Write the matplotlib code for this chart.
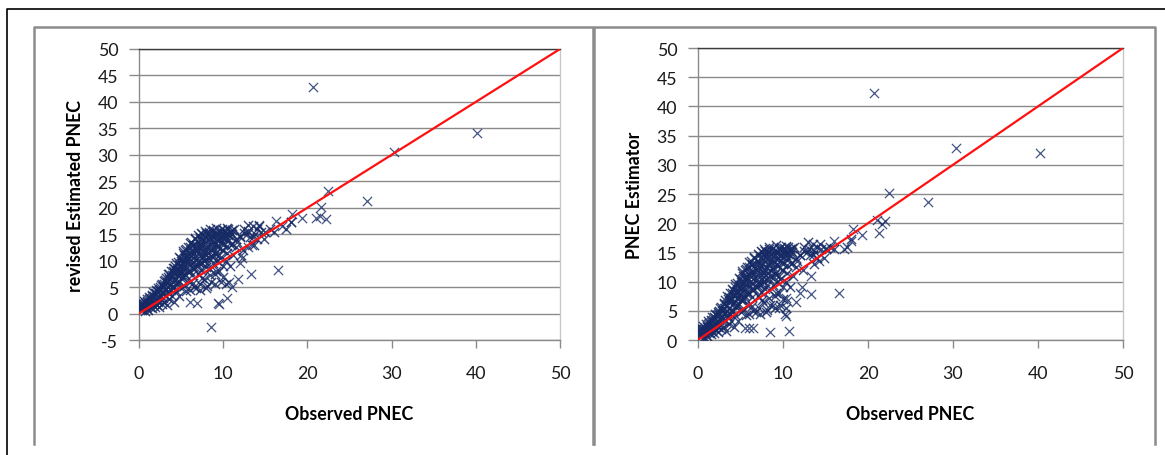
import numpy as np
import matplotlib
matplotlib.use('Agg')
import matplotlib.pyplot as plt
from matplotlib.lines import Line2D

plt.rcParams['font.family'] = ['Lato', 'DejaVu Sans']
plt.rcParams['axes.unicode_minus'] = False

# ── data ────────────────────────────────────────────────────────────────────
# dense cloud that both panels share (observed PNEC, estimated PNEC)
cloud_obs = [
    0.2, 0.3, 0.4, 0.5, 0.5, 0.6, 0.7, 0.8, 0.8, 0.9, 1.0, 1.0, 1.1, 1.2, 1.2,
    1.3, 1.4, 1.5, 1.5, 1.6, 1.7, 1.8, 1.8, 1.9, 2.0, 2.0, 2.1, 2.2, 2.2, 2.3,
    2.4, 2.5, 2.5, 2.6, 2.7, 2.8, 2.8, 2.9, 3.0, 3.0, 3.1, 3.2, 3.3, 3.3, 3.4,
    3.5, 3.6, 3.6, 3.7, 3.8, 3.9, 3.9, 4.0, 4.1, 4.2, 4.2, 4.3, 4.4, 4.5, 4.5,
    4.6, 4.7, 4.8, 4.8, 4.9, 5.0, 5.0, 5.1, 5.2, 5.3, 5.3, 5.4, 5.5, 5.5, 5.6,
    5.7, 5.8, 5.9, 6.0, 6.0, 6.1, 6.2, 6.3, 6.4, 6.5, 6.5, 6.6, 6.7, 6.8, 7.0,
    7.0, 7.1, 7.2, 7.3, 7.3, 7.4, 7.5, 7.6, 7.7, 7.8, 7.8, 7.9, 8.0, 8.0, 8.1,
    8.2, 8.3, 8.4, 8.5, 8.5, 8.7, 8.8, 8.9, 9.0, 9.0, 9.1, 9.2, 9.3, 9.5, 9.6,
    9.7, 9.8, 9.9, 10.0, 10.0, 10.2, 10.3, 10.4, 10.5, 10.6, 10.8, 10.9, 11.0,
    11.3, 11.5, 12.0, 12.5, 12.8, 13.5, 13.8, 14.0, 14.3, 14.5, 15.0, 15.5,
    16.0, 17.5, 18.0,
    4.0, 4.3, 4.6, 4.9, 5.2, 5.6, 5.8, 6.2, 6.6, 6.8, 7.2, 7.5, 7.9, 8.3, 8.6,
    9.2, 9.6, 10.1, 10.3, 10.6, 10.9, 5.0, 5.4, 5.7, 6.1, 6.3, 6.7, 7.0, 7.3,
    7.6, 7.9, 8.2, 8.5, 8.8, 9.1, 9.4, 9.7, 10.0, 3.5, 3.8, 4.1, 4.4, 4.7, 5.1,
    5.5, 6.4, 6.9, 7.4, 7.7, 8.1, 8.4, 8.9, 9.3, 2.5, 2.7, 3.0, 3.2, 3.4, 1.5,
    1.7, 2.0, 2.3, 0.3, 0.6, 0.9, 1.2, 0.1, 0.2, 0.4, 6.0, 6.4, 6.8, 7.2, 7.5,
    8.0, 8.4, 9.0, 9.5, 10.0, 10.3, 10.8, 11.2, 11.6, 12.3, 13.2, 12.9, 13.6,
    14.8,
    0.5, 0.7, 1.0, 1.3, 1.6, 1.9, 2.1, 2.4, 2.6, 2.9, 3.1, 3.3, 3.6, 3.8, 4.0,
    4.2, 4.4, 4.6, 4.8, 5.0, 5.2, 5.4, 5.6, 5.8, 6.0, 6.2, 6.4, 6.6, 6.8, 7.0,
    7.2, 7.4, 7.6, 7.8, 8.0, 8.2, 8.4, 8.6, 8.8, 9.0, 9.2, 9.4, 9.6, 9.8, 10.0,
    10.2, 10.4, 10.6, 10.8, 11.0,
    4.5, 5.0, 5.5, 6.0, 6.5, 7.0, 7.5, 8.0, 8.5, 9.0, 9.5, 10.0, 10.5, 11.0,
    11.5, 12.0, 12.5, 13.0, 13.5, 14.0,
    2.2, 2.8, 3.4, 4.0, 4.6, 5.2, 5.8, 6.4, 7.0, 7.6, 8.2, 8.8, 9.4, 10.0,
]
cloud_est = [
    0.8, 1.2, 0.6, 1.5, 0.9, 1.8, 0.5, 1.3, 2.0, 0.9, 1.6, 2.4, 0.7, 1.9, 2.8,
    1.2, 2.3, 3.0, 1.0, 2.6, 1.6, 3.4, 2.1, 1.2, 3.8, 2.7, 1.7, 4.2, 3.1, 2.2,
    1.3, 4.6, 3.5, 2.6, 1.8, 5.0, 4.0, 3.0, 5.5, 2.2, 4.4, 3.4, 6.0, 1.6, 5.0,
    3.9, 6.6, 2.8, 5.4, 4.5, 7.2, 3.3, 6.0, 5.0, 7.8, 2.2, 6.6, 4.2, 8.3, 5.6,
    7.2, 3.3, 9.0, 6.2, 7.8, 10.0, 4.8, 8.5, 6.8, 11.0, 5.2, 9.3, 7.5, 12.0, 4.3,
    10.2, 8.2, 11.3, 6.0, 12.5, 9.2, 10.8, 7.3, 13.0, 11.5, 5.0, 8.8, 12.3, 10.2,
    13.5, 7.5, 11.2, 9.6, 14.0, 4.5, 12.2, 10.5, 13.0, 6.5, 14.5, 11.5, 8.8, 13.8,
    12.5, 5.2, 15.0, 10.5, 14.2, 12.0, 6.0, 13.2, 9.5, 15.2, 11.5, 5.5, 14.0, 8.0,
    12.8, 15.5, 10.5, 6.0, 14.5, 12.0, 15.0, 9.0, 15.5, 5.5, 15.2, 11.5, 14.8,
    15.5, 13.0, 15.0, 16.0, 12.5, 14.5, 16.0, 15.0, 16.5, 15.0, 14.0, 16.5, 15.5,
    15.5, 16.0, 15.5, 16.0, 17.3,
    8.0, 9.0, 9.8, 10.5, 11.5, 11.0, 12.5, 13.5, 14.0, 13.0, 14.5, 15.0, 15.2,
    15.5, 14.8, 15.3, 15.8, 15.8, 14.5, 15.9, 15.3, 7.5, 8.5, 9.5, 10.0, 11.8,
    10.8, 12.0, 12.8, 11.5, 12.0, 12.8, 13.5, 12.5, 13.3, 14.0, 13.5, 14.2, 7.0,
    8.0, 8.6, 7.5, 8.2, 9.5, 10.5, 9.8, 9.0, 8.2, 10.0, 9.5, 8.5, 10.8, 10.0, 5.0,
    5.6, 6.2, 6.8, 7.5, 3.5, 4.0, 4.5, 4.8, 1.8, 2.4, 2.8, 3.2, 1.0, 1.5, 2.0,
    4.5, 5.8, 4.8, 5.5, 6.8, 4.8, 7.2, 7.5, 8.0, 7.0, 10.0, 9.0, 11.0, 13.5, 12.0,
    14.5, 16.8, 13.0, 14.0,
    1.4, 1.9, 2.2, 2.9, 3.3, 3.9, 4.3, 4.4, 5.4, 5.2, 6.4, 5.8, 7.4, 6.9, 8.7,
    7.6, 9.6, 8.4, 10.6, 9.0, 11.8, 9.9, 12.2, 10.8, 13.3, 11.4, 12.9, 14.2,
    12.0, 14.8, 13.2, 15.3, 13.8, 15.6, 14.4, 15.0, 16.0, 14.0, 15.7, 14.6,
    16.2, 15.0, 14.3, 15.9, 13.4, 14.9, 16.1, 13.8, 14.6, 15.8,
    6.0, 6.8, 7.2, 8.0, 8.5, 9.2, 9.6, 10.4, 10.9, 11.3, 11.0, 12.0, 12.8, 13.2,
    14.0, 14.6, 15.2, 15.6, 14.5, 16.0,
    2.6, 3.6, 4.2, 5.2, 6.0, 7.0, 7.8, 8.8, 9.8, 10.8, 11.4, 12.2, 12.6, 13.0,
]

# points only seen in the left panel (revised Estimated PNEC)
left_obs = [20.7, 40.2, 30.3, 27.1, 22.5, 21.6, 21.0, 22.2, 21.5, 19.3, 18.0,
            18.2, 16.5, 13.3, 8.6, 9.4, 9.5, 10.5, 6.0, 6.9, 11.0, 10.7, 12.0,
            12.2, 11.8, 13.0, 17.0, 16.3, 12.1, 13.4, 14.2]
left_est = [42.8, 34.2, 30.5, 21.3, 23.2, 20.2, 18.0, 17.9, 18.5, 18.0, 17.3,
            18.8, 8.2, 7.5, -2.5, 2.0, 1.8, 3.0, 2.2, 2.0, 5.0, 6.0, 9.5,
            10.5, 6.5, 12.5, 16.5, 17.5, 11.0, 13.0, 16.8]

# points only seen in the right panel (PNEC Estimator)
right_obs = [20.7, 30.3, 40.2, 27.1, 22.5, 21.0, 22.0, 21.6, 21.3, 19.3, 18.2,
             18.0, 17.2, 16.6, 13.3, 12.0, 13.3, 10.7, 8.5, 10.4, 10.2, 9.5,
             8.8, 6.0, 6.5, 5.5, 11.5, 10.5, 10.4, 12.2, 16.0, 15.0, 14.2, 13.5]
right_est = [42.3, 32.9, 32.0, 23.7, 25.1, 20.5, 20.3, 19.8, 18.3, 18.0, 19.0,
             17.0, 15.5, 8.1, 7.9, 8.0, 11.0, 1.5, 1.3, 4.1, 4.5, 5.5,
             6.0, 2.0, 2.1, 2.0, 6.5, 6.6, 7.2, 9.0, 17.0, 15.8, 13.5, 15.5]

fit_obs = [0, 50]
fit_est = [0, 50]

panels = [
    ('revised Estimated PNEC', left_obs, left_est, (-5, 50)),
    ('PNEC Estimator', right_obs, right_est, (0, 50)),
]

MARK = '#162a66'
GRID = '#8a8a8a'
FRAME = '#8c8c8c'

W, H = 1165, 456
fig = plt.figure(figsize=(W / 100, H / 100), dpi=100)
fig.patch.set_facecolor('white')

# axes boxes in pixels: left, right, top, bottom
boxes = [(139, 560, 50, 341), (698, 1123, 49, 341)]

for (ylab, ex_obs, ex_est, ylim), (l, r, t, b) in zip(panels, boxes):
    ax = fig.add_axes([l / W, 1 - b / H, (r - l) / W, (b - t) / H])
    ax.scatter(cloud_obs, cloud_est, marker='x', s=44, linewidths=1.0,
               color=MARK, alpha=0.85, zorder=3)
    ax.scatter(ex_obs, ex_est, marker='x', s=44, linewidths=0.9,
               color=MARK, alpha=0.8, zorder=3)
    ax.plot(fit_obs, fit_est, color='#ff1010', lw=1.6, zorder=4)

    ax.set_xlim(0, 50)
    ax.set_ylim(*ylim)
    ax.set_xticks(range(0, 51, 10))
    ax.set_yticks(range(ylim[0], 51, 5))
    ax.yaxis.grid(True, color=GRID, lw=1.0)
    ax.set_axisbelow(True)

    ax.spines['left'].set_color(GRID)
    ax.spines['bottom'].set_color(GRID)
    ax.spines['top'].set_color('#3a3a3a')
    ax.spines['right'].set_color('#c8c8c8')
    for s in ax.spines.values():
        s.set_linewidth(1.0)

    ax.tick_params(axis='x', length=6, width=1, color=GRID, pad=12,
                   labelsize=12.8, labelcolor='#1a1a1a')
    ax.tick_params(axis='y', length=7, width=1, color=GRID, pad=8,
                   labelsize=12.8, labelcolor='#1a1a1a')
    ax.set_xlabel('Observed PNEC', fontsize=12.8, fontweight='bold',
                  labelpad=17)
    ax.set_ylabel(ylab, fontsize=12.8, fontweight='bold', labelpad=10)

# grey panel borders (no bottom edge) and outer black frame
for l, r in [(34, 593), (594, 1155)]:
    xs = [l / W, l / W, r / W, r / W]
    ys = [1 - 445 / H, 1 - 28 / H, 1 - 28 / H, 1 - 445 / H]
    fig.add_artist(Line2D(xs, ys, color=FRAME, lw=1.8))
fig.add_artist(Line2D([7 / W, 7 / W, 1], [0, 1 - 10 / H, 1 - 10 / H],
                      color='black', lw=1.2))

plt.savefig('out.png', dpi=100, facecolor='white')
